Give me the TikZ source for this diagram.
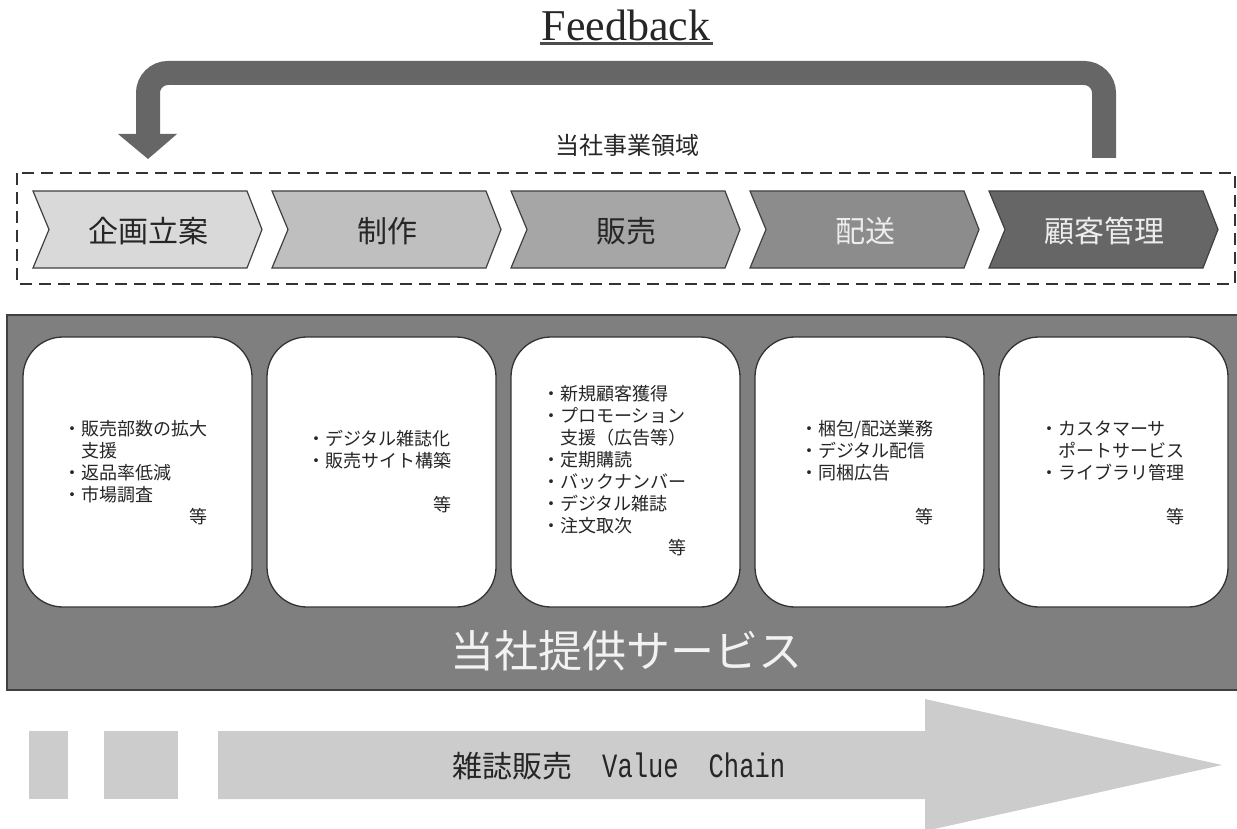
\documentclass[tikz,border=0pt]{standalone}
\usepackage{fontspec}
\setmainfont{Liberation Serif}
\newfontfamily\jp{Noto Sans CJK JP}
\newfontfamily\narrowmono[FakeStretch=0.75]{Liberation Mono}
\definecolor{chA}{HTML}{D9D9D9}
\definecolor{chB}{HTML}{BFBFBF}
\definecolor{chC}{HTML}{A6A6A6}
\definecolor{chD}{HTML}{8C8C8C}
\definecolor{chE}{HTML}{666666}
\definecolor{fbgray}{HTML}{666666}
\definecolor{panelgray}{HTML}{7F7F7F}
\definecolor{vcgray}{HTML}{CCCCCC}
\definecolor{edge}{HTML}{404040}
\begin{document}
\begin{tikzpicture}[x=1pt,y=-1pt,
  chev/.style={draw=edge,line width=1.2pt,line join=miter},
  chevtext/.style={font=\jp\fontsize{30}{36}\selectfont,inner sep=0},
  cardbox/.style={draw=black!80,line width=1.3pt,fill=white,rounded corners=40pt},
  cardtext/.style={anchor=north west,inner sep=0,font=\jp\fontsize{18}{22}\selectfont,text=black!85},
  vcbar/.style={fill=vcgray,draw=none},
]
\useasboundingbox (0,0) rectangle (1237,829);

% Feedback title
\node[inner sep=0,font=\fontsize{44}{50}\selectfont,text=black!85] (fbt) at (626,25) {Feedback};
\draw[line width=3pt,black!70] (540,44) -- (713,44);

% Feedback arrow
\coordinate (fbstart) at (1104,158);
\coordinate (fbend) at (148,135);
\draw[fbgray,line width=24pt,rounded corners=20pt] (fbstart) -- (1104,73) -- (148,73) -- (fbend);
\fill[fbgray] (118,134) -- (177,134) -- (148,159) -- cycle;

% domain label
\node[inner sep=0,font=\jp\fontsize{24}{28}\selectfont,text=black!85] (dom) at (627,145) {当社事業領域};

% dashed box
\draw[black!80,line width=2.3pt,dash pattern=on 12pt off 7pt] (17,173) rectangle (1235,284);

% chevrons
\foreach \i/\col/\txt/\tc [count=\k] in {0/chA/企画立案/black!85, 1/chB/制作/black!85, 2/chC/販売/black!85, 3/chD/配送/white!93!black, 4/chE/顧客管理/white!93!black}{
  \pgfmathsetmacro{\L}{33+239*\i}
  \draw[chev,fill=\col] (\L,191) -- (\L+214,191) -- (\L+229,229.5) -- (\L+214,268) -- (\L,268) -- (\L+16,229.5) -- cycle;
  \node[chevtext,text=\tc] (step\k) at (\L+115,231) {\txt};
}

% services panel
\draw[fill=panelgray,draw=edge,line width=2pt] (7,315) rectangle (1240,690);
\foreach \i in {0,...,4}{
  \pgfmathsetmacro{\L}{23+244*\i}
  \draw[cardbox] (\L,337) rectangle (\L+229,607);
}
\node[inner sep=0,font=\jp\fontsize{44}{50}\selectfont,text=white!95!black] (svc) at (626,651) {当社提供サービス};

% card texts
\node[cardtext] (t1) at (63,420) {\begin{tabular}{@{}l@{}}・販売部数の拡大\\　支援\\・返品率低減\\・市場調査\\\multicolumn{1}{@{}r@{}}{等}\end{tabular}};
\node[cardtext] (t2) at (307,430) {\begin{tabular}{@{}l@{}}・デジタル雑誌化\\・販売サイト構築\\\\\multicolumn{1}{@{}r@{}}{等}\end{tabular}};
\node[cardtext] (t3) at (542,385) {\begin{tabular}{@{}l@{}}・新規顧客獲得\\・プロモーション\\　支援（広告等）\\・定期購読\\・バックナンバー\\・デジタル雑誌\\・注文取次\\\multicolumn{1}{@{}r@{}}{等}\end{tabular}};
\node[cardtext] (t4) at (800,420) {\begin{tabular}{@{}l@{}}・梱包/配送業務\\・デジタル配信\\・同梱広告\\\\\multicolumn{1}{@{}r@{}}{等}\end{tabular}};
\node[cardtext] (t5) at (1040,420) {\begin{tabular}{@{}l@{}}・カスタマーサ\\　ポートサービス\\・ライブラリ管理\\\\\multicolumn{1}{@{}r@{}}{等}\end{tabular}};

% value chain arrow
\fill[vcbar] (29,731) rectangle (68,799);
\fill[vcbar] (104,731) rectangle (178,799);
\fill[vcbar] (218,731) -- (925,731) -- (925,699) -- (1222,765) -- (925,831) -- (925,799) -- (218,799) -- cycle;
\node[inner sep=0,anchor=west,font=\narrowmono\fontsize{34}{38}\selectfont,text=black!85] (vc) at (452,766) {{\jp\fontsize{30}{34}\selectfont 雑誌販売}\hspace{30pt}Value\hspace{30pt}Chain};
\end{tikzpicture}
\end{document}
